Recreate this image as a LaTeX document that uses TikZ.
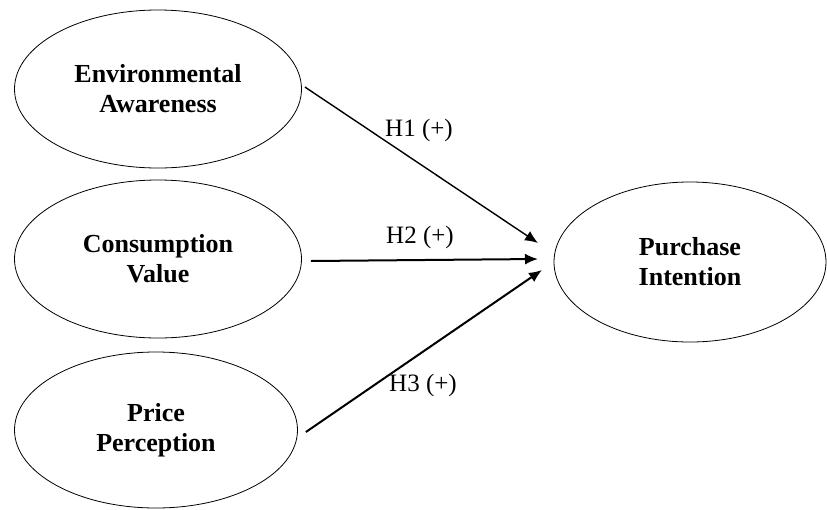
\documentclass[tikz,border=0pt]{standalone}
\usepackage{fontspec}
\setmainfont{Liberation Serif}
\usetikzlibrary{shapes.geometric,arrows.meta}
\begin{document}
\begin{tikzpicture}[x=0.5pt,y=-0.5pt,font=\fontsize{12.5}{15}\selectfont,
	construct/.style={ellipse, draw, thin, align=center, inner sep=0pt, font=\fontsize{13}{15}\selectfont\bfseries},
	path/.style={-{Latex[length=6.5pt,width=5.5pt]}, line width=1pt}]
	\useasboundingbox (0,0) rectangle (827,510);
	\node (EA) at (158, 89)	[construct, minimum width=143.5pt, minimum height=79pt]	{Environmental\\Awareness};
	\node (CV) at (158,259)	[construct, minimum width=143.5pt, minimum height=79pt]	{Consumption\\Value};
	\node (PP) at (156,430)	[construct, minimum width=141.5pt, minimum height=78pt]	{Price\\Perception};
	\node (PI) at (690,262)	[construct, minimum width=136pt, minimum height=80pt]	{Purchase\\Intention};
	\coordinate (T1) at (538,243);
	\coordinate (T2) at (538,259);
	\coordinate (T3) at (542,270);
	\draw[path, line width=0.7pt] ([shift={(3,-2)}]EA.east) -- (T1);
	\draw[path] ([shift={(9,2)}]CV.east) -- (T2);
	\draw[path] ([shift={(8,2)}]PP.east) -- (T3);
	\node (L1) at (419,130)	{H1 (+)};
	\node (L2) at (420,237)	{H2 (+)};
	\node (L3) at (423,385)	{H3 (+)};
\end{tikzpicture}
\end{document}
